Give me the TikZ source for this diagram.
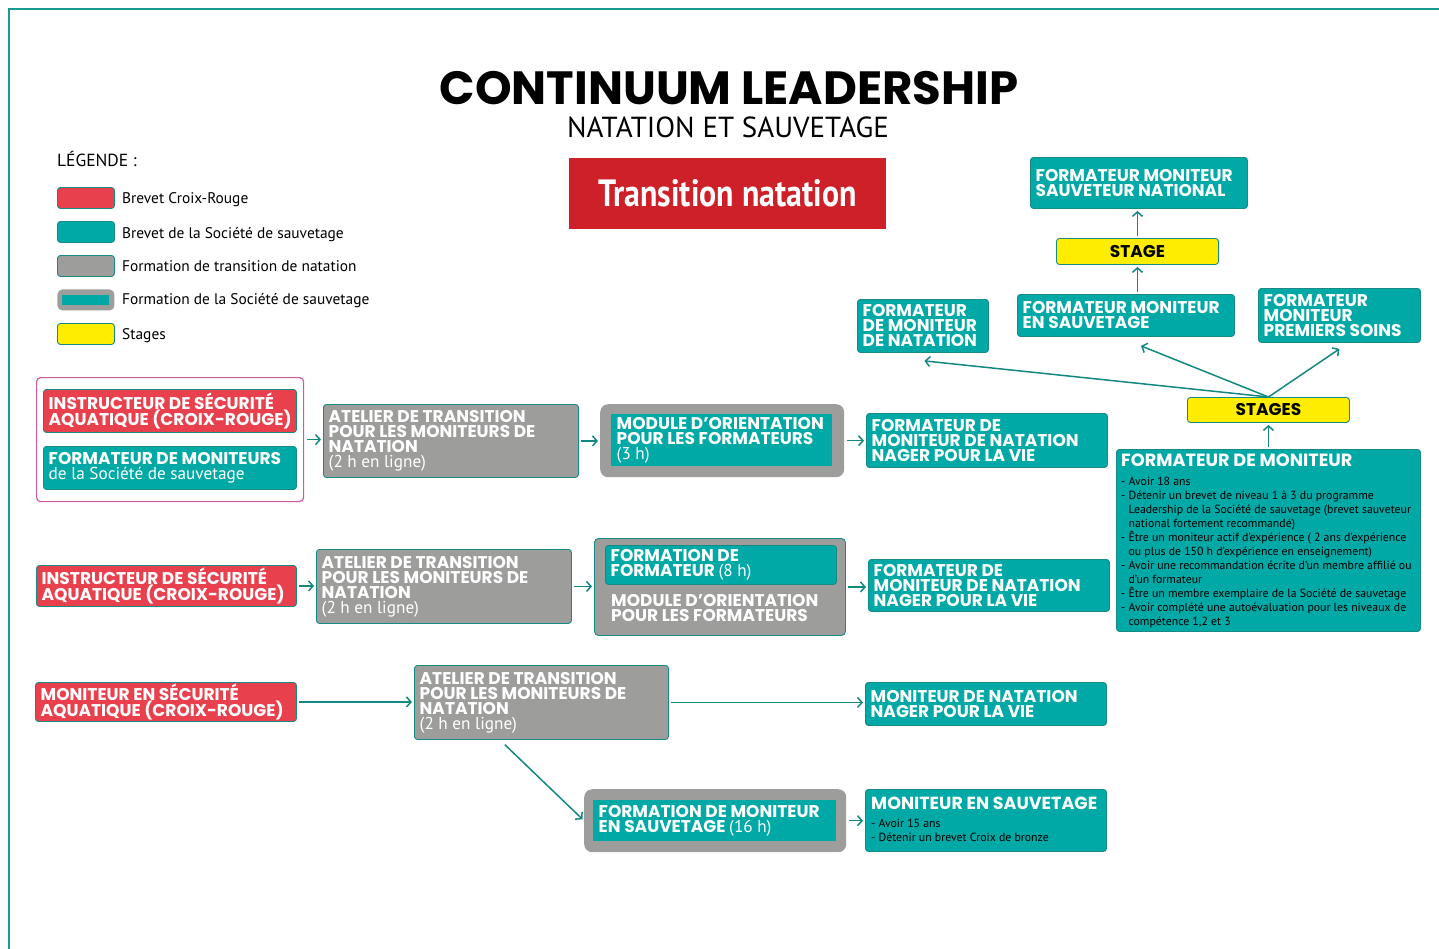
\documentclass[tikz,border=0pt]{standalone}
\usepackage{fontspec}
\setmainfont{PT Sans}
\newfontfamily\gotham{Poppins}
\usetikzlibrary{arrows.meta,calc}
\definecolor{tealc}{RGB}{0,169,165}
\definecolor{tealline}{RGB}{22,138,132}
\definecolor{redc}{RGB}{232,64,76}
\definecolor{grayc}{RGB}{157,157,156}
\definecolor{yellowc}{RGB}{255,237,0}
\definecolor{arrowc}{RGB}{18,136,128}
\definecolor{pinkc}{RGB}{204,90,160}
\definecolor{framec}{RGB}{26,154,148}
\definecolor{trred}{RGB}{205,32,40}
\newcommand\bxfont{\gotham\bfseries\fontsize{17}{15}\selectfont}
\newcommand\rgfont{\normalfont\fontsize{17.2}{15}\selectfont}
\newcommand\smfont{\normalfont\fontsize{11.8}{13.95}\selectfont}
\newcommand\bx[7]{%
  \node[#1, minimum width=#5pt, minimum height=#6pt] (#2) at (#3,#4) {};
  \node[bxtext] (#2t) at ($(#2.west)+(5.5,0)$) {#7};}
\tikzset{
  bx/.style={anchor=north west, inner sep=0pt, rounded corners=3pt, line width=0.9pt, draw=tealline},
  bxtext/.style={anchor=west, inner sep=0pt, align=left, text=white, font=\bxfont},
  tealbx/.style={bx, fill=tealc},
  redbx/.style={bx, fill=redc},
  graybx/.style={bx, fill=grayc},
  outerbx/.style={anchor=north west, inner sep=0pt, fill=grayc, rounded corners=8pt},
  yelbx/.style={bx, fill=yellowc, text=black, align=center, font=\bxfont},
  swatch/.style={anchor=north west, inner sep=0pt, minimum width=57pt, minimum height=21pt,
    rounded corners=3pt, draw=tealline, line width=0.9pt},
  legtxt/.style={anchor=base west, inner sep=0pt, font=\normalfont\fontsize{15.4}{15}\selectfont},
  arr/.style={draw=arrowc, line width=1.5pt, -{Straight Barb[length=4.5pt,width=10pt]}},
  sarr/.style={arr, shorten <=2.5pt, shorten >=2pt},
}
\begin{document}
\begin{tikzpicture}[x=1pt,y=-1pt]
\useasboundingbox (0,0) rectangle (1439,948);
% frame
\draw[framec, line width=2.8pt] (9,950) -- (9,9) -- (1441,9);
% title
\node[inner sep=0pt, font=\gotham\bfseries\fontsize{46.6}{46}\selectfont] (title) at (729,88) {CONTINUUM LEADERSHIP};
\node[inner sep=0pt, font=\normalfont\fontsize{29}{29}\selectfont] (subtitle) at (728,127) {NATATION ET SAUVETAGE};
\node[anchor=north west, inner sep=0pt, fill=trred, minimum width=317pt, minimum height=71pt] (trans) at (569,158)
  {\bfseries\fontsize{38}{38}\selectfont\color{white}\scalebox{0.84}[1]{Transition natation}};
% legend
\node[legtxt, font=\normalfont\fontsize{17.5}{17}\selectfont] (legtitle) at (57,166) {LÉGENDE :};
\node[swatch, fill=redc] (sw1) at (57,187) {};
\node[swatch, fill=tealc] (sw2) at (57,221) {};
\node[swatch, fill=grayc] (sw3) at (57,255) {};
\node[swatch, fill=grayc, draw=none, rounded corners=5pt] (sw4) at (57,289) {};
\node[anchor=north west, inner sep=0pt, minimum width=47pt, minimum height=10pt, fill=tealc] (sw4in) at (62,294.5) {};
\node[swatch, fill=yellowc] (sw5) at (57,323) {};
\node[legtxt] (lg1) at (122,203) {Brevet Croix-Rouge};
\node[legtxt] (lg2) at (122,238) {Brevet de la Société de sauvetage};
\node[legtxt] (lg3) at (122,271) {Formation de transition de natation};
\node[legtxt] (lg4) at (122,304) {Formation de la Société de sauvetage};
\node[legtxt] (lg5) at (122,339) {Stages};
% row 1
\node[anchor=north west, inner sep=0pt, minimum width=267pt, minimum height=124pt, draw=pinkc, line width=1.2pt, rounded corners=4pt, fill=white] (pink) at (36,377) {};
\bx{redbx}{isa1}{43}{389}{253}{43}{INSTRUCTEUR DE SÉCURITÉ\\AQUATIQUE (CROIX-ROUGE)}
\bx{tealbx}{fdms}{43}{446}{253}{43}{FORMATEUR DE MONITEURS\\{\rgfont de la Société de sauvetage}}
\bx{graybx}{atr1}{323}{404}{255}{73}{ATELIER DE TRANSITION\\POUR LES MONITEURS DE\\NATATION\\{\rgfont (2 h en ligne)}}
\node[outerbx, minimum width=244pt, minimum height=73pt] (mod1) at (600,404) {};
\bx{tealbx, draw=none, rounded corners=0pt}{mod1in}{611}{414}{221}{52}{MODULE D’ORIENTATION\\POUR LES FORMATEURS\\{\rgfont (3 h)}}
\bx{tealbx}{fmn1}{866}{413}{241}{54}{FORMATEUR DE\\MONITEUR DE NATATION\\NAGER POUR LA VIE}
% row 2
\bx{redbx}{isa2}{36}{565}{260}{41}{INSTRUCTEUR DE SÉCURITÉ\\AQUATIQUE (CROIX-ROUGE)}
\bx{graybx}{atr2}{316}{549}{255}{74}{ATELIER DE TRANSITION\\POUR LES MONITEURS DE\\NATATION\\{\rgfont (2 h en ligne)}}
\node[outerbx, rounded corners=4pt, draw=tealline, line width=0.9pt, minimum width=251pt, minimum height=97pt] (fdf) at (594,538) {};
\bx{tealbx}{fdfin}{605}{545}{231}{39}{FORMATION DE\\FORMATEUR {\rgfont (8 h)}}
\node[anchor=north west, inner sep=0pt, align=left, text=white, font=\bxfont] (fdftxt) at (611,594) {MODULE D’ORIENTATION\\POUR LES FORMATEURS};
\bx{tealbx}{fmn2}{868}{559}{241}{52}{FORMATEUR DE\\MONITEUR DE NATATION\\NAGER POUR LA VIE}
% row 3
\bx{redbx}{msa}{35}{682}{261}{39}{MONITEUR EN SÉCURITÉ\\AQUATIQUE (CROIX-ROUGE)}
\bx{graybx}{atr3}{414}{665}{254}{74}{ATELIER DE TRANSITION\\POUR LES MONITEURS DE\\NATATION\\{\rgfont (2 h en ligne)}}
\bx{tealbx}{mnnv}{865}{682}{241}{43}{MONITEUR DE NATATION\\NAGER POUR LA VIE}
\node[outerbx, minimum width=262pt, minimum height=63pt] (fms) at (584,789) {};
\bx{tealbx, draw=none, rounded corners=0pt}{fmsin}{593}{800}{243}{41}{FORMATION DE MONITEUR\\EN SAUVETAGE {\rgfont (16 h)}}
\node[tealbx, minimum width=241pt, minimum height=62pt] (mes) at (865,789) {};
\node[anchor=north west, inner sep=0pt, align=left, text=white, font=\gotham\bfseries\fontsize{17.5}{16}\selectfont] (mestitle) at (871,797) {MONITEUR EN SAUVETAGE};
\node[anchor=north west, inner sep=0pt, align=left, font=\smfont] (meslist) at (871,819) {- Avoir 15 ans\\- Détenir un brevet Croix de bronze};
% right column
\node[tealbx, minimum width=304pt, minimum height=182pt] (fdm) at (1116,449) {};
\node[anchor=north west, inner sep=0pt, align=left, text=white, font=\gotham\bfseries\fontsize{17.7}{16}\selectfont] (fdmtitle) at (1121,454) {FORMATEUR DE MONITEUR};
\node[anchor=north west, inner sep=0pt, align=left, font=\smfont] (fdmlist) at (1121,477) {- Avoir 18 ans\\
- Détenir un brevet de niveau 1 à 3 du programme\\
\hphantom{- }Leadership de la Société de sauvetage (brevet sauveteur\\
\hphantom{- }national fortement recommandé)\\
- Être un moniteur actif d’expérience ( 2 ans d’expérience\\
\hphantom{- }ou plus de 150 h d’expérience en enseignement)\\
- Avoir une recommandation écrite d’un membre affilié ou\\
\hphantom{- }d’un formateur\\
- Être un membre exemplaire de la Société de sauvetage\\
- Avoir complété une autoévaluation pour les niveaux de\\
\hphantom{- }compétence 1,2 et 3};
\node[yelbx, minimum width=162pt, minimum height=25pt] (stages) at (1187,397) {STAGES};
\bx{tealbx}{fmnat}{857}{299}{131}{53}{FORMATEUR\\DE MONITEUR\\DE NATATION}
\bx{tealbx}{fmes}{1017}{294}{217}{42}{FORMATEUR MONITEUR\\EN SAUVETAGE}
\bx{tealbx}{fmps}{1258}{288}{162}{54}{FORMATEUR\\MONITEUR\\PREMIERS SOINS}
\node[yelbx, minimum width=162pt, minimum height=26pt] (stage) at (1056,238) {STAGE};
\bx{tealbx}{fmsn}{1030}{157}{217}{51}{FORMATEUR MONITEUR\\SAUVETEUR NATIONAL}
% connectors
\draw[sarr] (pink.east) -- (pink.east -| atr1.west);
\draw[sarr] (atr1.east) -- (atr1.east -| mod1.west);
\draw[sarr] (mod1.east) -- (mod1.east -| fmn1.west);
\draw[sarr] (isa2.east) -- (isa2.east -| atr2.west);
\draw[sarr] (atr2.east) -- (atr2.east -| fdf.west);
\draw[sarr] (fdf.east) -- (fdf.east -| fmn2.west);
\draw[sarr] (msa.east) -- (msa.east -| atr3.west);
\draw[sarr] (atr3.east) -- (atr3.east -| mnnv.west);
\draw[sarr] ($(atr3.south west)+(89,3)$) -- (fms.west);
\draw[sarr] (fms.east) -- (fms.east -| mes.west);
\draw[sarr] (fdm.north) -- (stages.south);
\draw[arr] (stages.north) -- ($(fmnat.south)+(1.5,8)$);
\draw[arr] (stages.north) -- ($(fmes.south)+(15,9)$);
\draw[arr] (stages.north) -- ($(fmps.south)+(0,6)$);
\draw[sarr] (stage.south |- fmes.north) -- (stage.south);
\draw[sarr] (stage.north) -- (stage.north |- fmsn.south);
\end{tikzpicture}
\end{document}
